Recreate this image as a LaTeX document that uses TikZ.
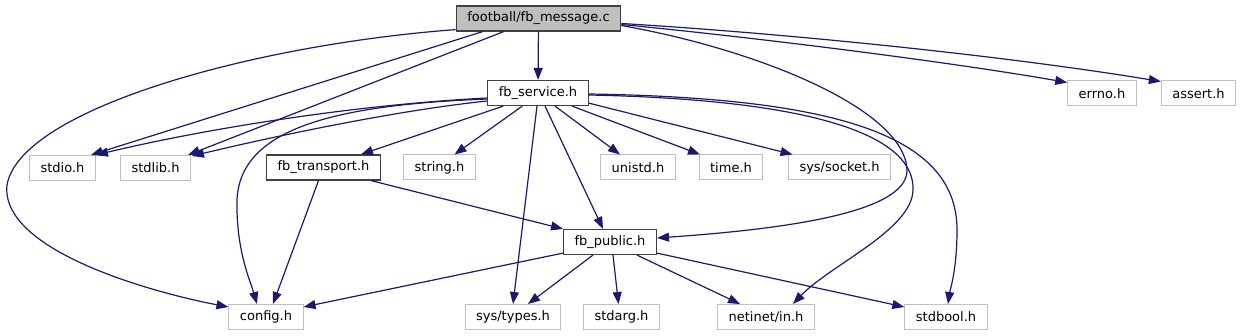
\documentclass[tikz,border=0pt]{standalone}
\usepackage{fontspec}
\setmainfont{DejaVu Sans}
\usetikzlibrary{arrows.meta,calc}
\definecolor{edgeblue}{HTML}{191970}
\definecolor{boxgray}{HTML}{BFBFBF}
\definecolor{boxdark}{HTML}{404040}

\begin{document}
\begin{tikzpicture}[
  x=1pt, y=-1pt,
  every node/.style={font=\fontsize{13}{15}\selectfont, inner xsep=11pt, inner ysep=0pt, minimum height=25pt},
  mainfile/.style={rectangle, draw=boxdark, fill=boxgray, line width=1.2pt},
  docfile/.style={rectangle, draw=boxdark, fill=white, line width=1.2pt},
  extfile/.style={rectangle, draw=boxgray, fill=white, line width=1pt},
  inc/.style={-{Triangle[length=12pt,width=9pt]}, edgeblue, line width=1.2pt},
]
\useasboundingbox (0,0) rectangle (1241,336);

% Top rows
\node[mainfile] (msg) at (538.5,18.5) {football/fb\_message.c};
\node[docfile] (svc) at (538,93) {fb\_service.h};
\node[extfile] (errno) at (1102,93.5) {errno.h};
\node[extfile] (assert) at (1198.5,93.5) {assert.h};

% Middle row
\node[extfile] (stdio) at (62.5,168) {stdio.h};
\node[extfile] (stdlib) at (155.5,168) {stdlib.h};
\node[docfile] (trans) at (323.5,167.5) {fb\_transport.h};
\node[extfile] (string) at (439.5,167.5) {string.h};
\node[extfile] (unistd) at (638,167.5) {unistd.h};
\node[extfile] (time) at (731,167.5) {time.h};
\node[extfile] (socket) at (839.5,167.5) {sys/socket.h};
\node[docfile] (pub) at (610,242) {fb\_public.h};

% Bottom row
\node[extfile] (config) at (266,317) {config.h};
\node[extfile] (types) at (513,317) {sys/types.h};
\node[extfile] (stdarg) at (621.5,317) {stdarg.h};
\node[extfile] (netin) at (766,317) {netinet/in.h};
\node[extfile] (stdbool) at (946,317) {stdbool.h};

% Includes of fb_message.c
\draw[inc] (msg) -- (svc);
\draw[inc] ($(msg.south west)+(0,-2)$) .. controls (250,45) and (20,110) .. (7,185)
  .. controls (0,250) and (150,292) .. ($(config.north west)+(0,3)$);
\draw[inc] ($(msg.south west)+(27,0)$) -- ($(stdio.north east)+(-5,0)$);
\draw[inc] ($(msg.south west)+(48,0)$) -- ($(stdlib.north east)+(-3,0)$);
\draw[inc] ($(msg.east)+(0,7)$) .. controls (760,50) and (905,110) .. (907,170)
  .. controls (908,215) and (770,230) .. ($(pub.east)+(0,-4)$);
\draw[inc] ($(msg.east)+(0,6)$) .. controls (760,38) and (950,62) .. ($(errno.north west)+(0,2)$);
\draw[inc] ($(msg.east)+(0,5)$) .. controls (780,33) and (1000,55) .. ($(assert.north west)+(0,1)$);

% Includes of fb_service.h
\draw[inc] ($(svc.west)+(0,5)$) .. controls (350,105) and (200,130) .. (stdio.north east);
\draw[inc] ($(svc.west)+(0,8)$) .. controls (400,110) and (280,135) .. ($(stdlib.north east)+(1,1)$);
\draw[inc] ($(svc.west)+(0,6)$) .. controls (330,105) and (240,130) .. (237,200)
  .. controls (236,250) and (250,280) .. ($(config.north)+(-9,0)$);
\draw[inc] ($(svc.south west)+(16,0)$) -- ($(trans.north east)+(-20,0)$);
\draw[inc] ($(svc.south west)+(35,0)$) -- ($(string.north)+(15,0)$);
\draw[inc] ($(svc.south)+(-1,0)$) -- (types.north);
\draw[inc] ($(svc.south)+(7,0)$) -- ($(pub.north)+(-7,0)$);
\draw[inc] ($(svc.south)+(17,0)$) -- ($(unistd.north)+(-18,0)$);
\draw[inc] ($(svc.south)+(34,0)$) -- ($(time.north)+(-31,0)$);
\draw[inc] ($(svc.south east)+(0,-3)$) -- ($(socket.north)+(-47,0)$);
\draw[inc] ($(svc.east)+(0,2)$) .. controls (830,100) and (915,140) .. (913,190)
  .. controls (912,230) and (830,265) .. ($(netin.north)+(27,0)$);
\draw[inc] ($(svc.east)+(0,1)$) .. controls (850,98) and (957,140) .. (957,230)
  .. controls (957,270) and (950,290) .. ($(stdbool.north)+(2,0)$);

% Includes of fb_transport.h
\draw[inc] ($(trans.south)+(-5,0)$) -- ($(config.north)+(7,0)$);
\draw[inc] ($(trans.south east)+(-10,0)$) -- (pub.north west);

% Includes of fb_public.h
\draw[inc] ($(pub.south west)+(0,-2)$) -- ($(config.north east)+(0,3)$);
\draw[inc] ($(pub.south)+(-17,0)$) -- ($(types.north)+(15,0)$);
\draw[inc] ($(pub.south)+(3,0)$) -- ($(stdarg.north)+(-3,0)$);
\draw[inc] ($(pub.south)+(27,0)$) -- ($(netin.north)+(-26,0)$);
\draw[inc] ($(pub.south east)+(0,-2)$) -- ($(stdbool.north west)+(0,3)$);
\end{tikzpicture}
\end{document}
